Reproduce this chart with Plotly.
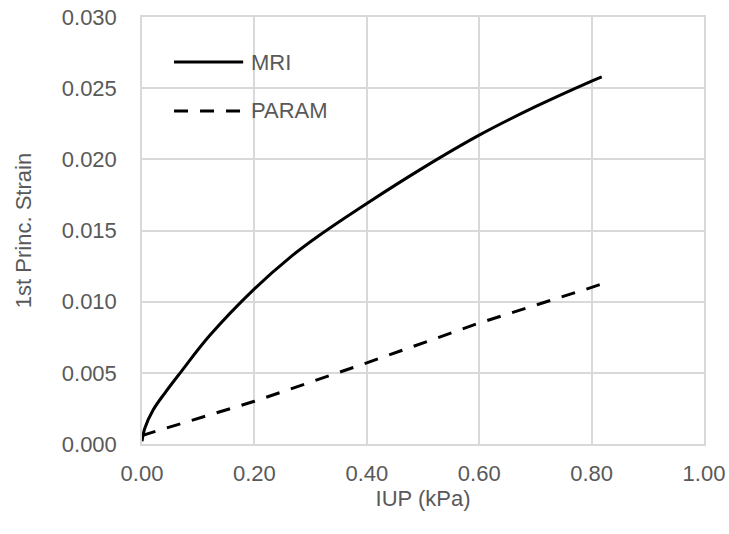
import plotly.graph_objects as go

# IUP (kPa) vs first principal strain for the two model variants
mri_iup = [0.0, 0.005, 0.020, 0.041, 0.068, 0.12, 0.20, 0.263, 0.317, 0.40, 0.50, 0.60, 0.70, 0.80, 0.818]
mri_strain = [0.0002, 0.0011, 0.0024, 0.0036, 0.0050, 0.0076, 0.0109, 0.0131, 0.0147, 0.0169, 0.0194, 0.0217, 0.0237, 0.0255, 0.0258]

param_iup = [0.0, 0.20, 0.40, 0.60, 0.80, 0.815]
param_strain = [0.0006, 0.0030, 0.0057, 0.0085, 0.0110, 0.0112]

series_names = ["MRI", "PARAM"]
x_ticks = [0.0, 0.2, 0.4, 0.6, 0.8, 1.0]
y_ticks = [0.000, 0.005, 0.010, 0.015, 0.020, 0.025, 0.030]

GRID = "#d9d9d9"
TEXT = "#595959"
FONT = "Liberation Sans, Arial, sans-serif"
FS = 22
DASH = "14px,12px"

fig = go.Figure()
fig.add_trace(go.Scatter(
    x=mri_iup, y=mri_strain, mode="lines", name=series_names[0],
    line=dict(color="black", width=3, shape="spline", smoothing=1.0),
    showlegend=False,
))
fig.add_trace(go.Scatter(
    x=param_iup, y=param_strain, mode="lines", name=series_names[1],
    line=dict(color="black", width=3, dash=DASH),
    showlegend=False,
))

# In-plot legend: line samples plus labels
legend_rows = [(0.8946, "solid"), (0.7799, DASH)]
for (ypos, dash), name in zip(legend_rows, series_names):
    fig.add_shape(type="line", xref="paper", yref="paper",
                  x0=0.057, x1=0.180, y0=ypos, y1=ypos,
                  line=dict(color="black", width=3, dash=dash))
    fig.add_annotation(xref="paper", yref="paper", x=0.19, y=ypos,
                       text=name, showarrow=False, xanchor="left", yanchor="middle",
                       font=dict(family=FONT, size=FS, color=TEXT))

axis_common = dict(
    showgrid=True, gridcolor=GRID, gridwidth=1.5,
    showline=True, linecolor=GRID, linewidth=1.5, mirror=True,
    zeroline=False, ticks="", automargin=False,
    tickfont=dict(family=FONT, size=FS, color=TEXT),
)

fig.update_layout(
    width=729, height=534,
    margin=dict(l=142, r=25, t=17, b=90),
    paper_bgcolor="white", plot_bgcolor="white",
    xaxis=dict(
        range=[0, 1.0], tickvals=x_ticks,
        ticktext=[f"{v:.2f}" for v in x_ticks],
        ticklabelstandoff=9,
        title=dict(text="IUP (kPa)", font=dict(family=FONT, size=FS, color=TEXT), standoff=2),
        **axis_common,
    ),
    yaxis=dict(
        range=[0, 0.030], tickvals=y_ticks,
        ticktext=[f"{v:.3f}" for v in y_ticks],
        ticklabelstandoff=19,
        title=dict(text="1st Princ. Strain", font=dict(family=FONT, size=FS, color=TEXT), standoff=24),
        **axis_common,
    ),
)

fig.write_html("out.html")
